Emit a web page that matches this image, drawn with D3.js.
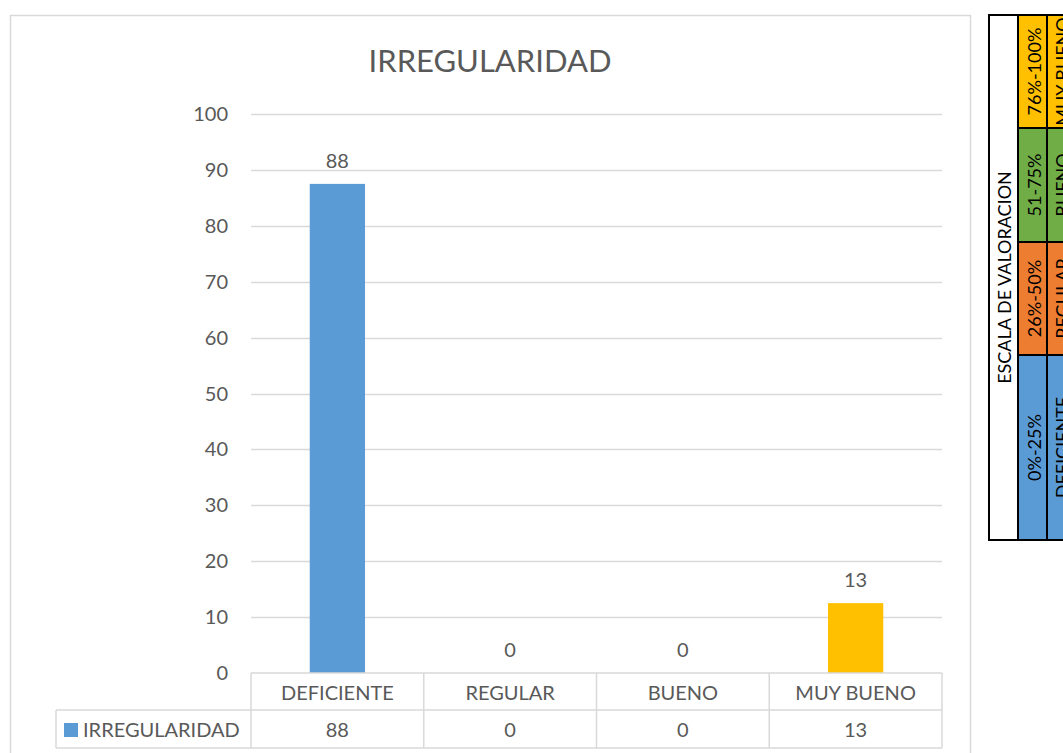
<!DOCTYPE html>
<html>
<head>
<meta charset="utf-8">
<script src="https://cdn.jsdelivr.net/npm/d3@7"></script>
<style>
  body { margin: 0; background: #fff; }
  svg { display: block; font-family: Lato, "Open Sans", sans-serif; }
</style>
</head>
<body>
<script>
// chart data
var categories = ["DEFICIENTE", "REGULAR", "BUENO", "MUY BUENO"];
var values = [87.5, 0, 0, 12.5];
var barColors = ["#5b9bd5", "#5b9bd5", "#5b9bd5", "#ffc000"];
var seriesName = "IRREGULARIDAD";
var yTicks = [0, 10, 20, 30, 40, 50, 60, 70, 80, 90, 100];

// rating scale table
var scaleTitle = "ESCALA DE VALORACION";
var scaleRanges = ["0%-25%", "26%-50%", "51-75%", "76%-100%"];
var scaleNames = ["DEFICIENTE", "REGULAR", "BUENO", "MUY BUENO"];
var scaleColors = ["#5b9bd5", "#ed7d31", "#70ad47", "#ffc000"];

var W = 1063, H = 753;
var textColor = "#595959";
var gridColor = "#d9d9d9";

var svg = d3.select("body")
            .append("svg")
            .attr("width", W)
            .attr("height", H);

// chart frame
svg.append("rect")
   .attr("x", 10.5)
   .attr("y", 15.5)
   .attr("width", 960)
   .attr("height", 780)
   .attr("fill", "#fff")
   .attr("stroke", gridColor)
   .attr("stroke-width", 1.5);

var left = 251, right = 942;
var y = d3.scaleLinear().domain([0, 100]).range([673, 114]);
var x = d3.scaleBand().domain(categories).range([left, right]);
var fmt = d3.format(".0f");

// title
svg.append("text")
   .attr("x", 490)
   .attr("y", 72)
   .attr("text-anchor", "middle")
   .attr("font-size", 31)
   .attr("fill", textColor)
   .text(seriesName);

// gridlines
svg.selectAll("line.grid")
   .data(yTicks.filter(function(d) { return d > 0; }))
   .enter()
   .append("line")
   .attr("class", "grid")
   .attr("x1", left)
   .attr("x2", right)
   .attr("y1", function(d) { return Math.round(y(d)) + 0.5; })
   .attr("y2", function(d) { return Math.round(y(d)) + 0.5; })
   .attr("stroke", gridColor)
   .attr("stroke-width", 1.5);

// y axis labels
svg.selectAll("text.ytick")
   .data(yTicks)
   .enter()
   .append("text")
   .attr("class", "ytick")
   .attr("x", 228)
   .attr("y", function(d) { return y(d) + 7; })
   .attr("text-anchor", "end")
   .attr("font-size", 20)
   .attr("fill", textColor)
   .text(function(d) { return d; });

// bars
var barW = x.bandwidth() * 0.32;
svg.selectAll("rect.bar")
   .data(values)
   .enter()
   .append("rect")
   .attr("class", "bar")
   .attr("x", function(d, i) { return x(categories[i]) + (x.bandwidth() - barW) / 2; })
   .attr("y", function(d) { return y(d); })
   .attr("width", barW)
   .attr("height", function(d) { return y(0) - y(d); })
   .attr("fill", function(d, i) { return barColors[i]; });

// data labels
svg.selectAll("text.dlabel")
   .data(values)
   .enter()
   .append("text")
   .attr("class", "dlabel")
   .attr("x", function(d, i) { return x(categories[i]) + x.bandwidth() / 2; })
   .attr("y", function(d) { return y(d) - 16; })
   .attr("text-anchor", "middle")
   .attr("font-size", 20)
   .attr("fill", textColor)
   .text(function(d) { return fmt(d); });

// data table under the plot
var row1 = 673, row2 = 710, row3 = 748, tableLeft = 56;
var tbl = svg.append("g")
             .attr("stroke", gridColor)
             .attr("stroke-width", 1.5);

tbl.append("line").attr("x1", left).attr("x2", right).attr("y1", row1).attr("y2", row1);
tbl.append("line").attr("x1", tableLeft).attr("x2", right).attr("y1", row2).attr("y2", row2);
tbl.append("line").attr("x1", tableLeft).attr("x2", right).attr("y1", row3).attr("y2", row3);
tbl.append("line").attr("x1", tableLeft).attr("x2", tableLeft).attr("y1", row2).attr("y2", row3);

var edges = categories.map(function(c) { return x(c); }).concat([right]);
tbl.selectAll("line.vcell")
   .data(edges)
   .enter()
   .append("line")
   .attr("class", "vcell")
   .attr("x1", function(d) { return d; })
   .attr("x2", function(d) { return d; })
   .attr("y1", row1)
   .attr("y2", row3);

svg.selectAll("text.cat")
   .data(categories)
   .enter()
   .append("text")
   .attr("class", "cat")
   .attr("x", function(d) { return x(d) + x.bandwidth() / 2; })
   .attr("y", 700)
   .attr("text-anchor", "middle")
   .attr("font-size", 20)
   .attr("fill", textColor)
   .text(function(d) { return d; });

svg.selectAll("text.val")
   .data(values)
   .enter()
   .append("text")
   .attr("class", "val")
   .attr("x", function(d, i) { return x(categories[i]) + x.bandwidth() / 2; })
   .attr("y", 737)
   .attr("text-anchor", "middle")
   .attr("font-size", 20)
   .attr("fill", textColor)
   .text(function(d) { return fmt(d); });

// legend key in the table
svg.append("rect")
   .attr("x", 64)
   .attr("y", 723)
   .attr("width", 14)
   .attr("height", 14)
   .attr("fill", barColors[0]);

svg.append("text")
   .attr("x", 83)
   .attr("y", 737)
   .attr("font-size", 20)
   .attr("fill", textColor)
   .text(seriesName);

// rating scale table at the right
var colX = [989, 1018, 1047, 1076];
var segEdges = [540, 355, 242, 128, 15];   // bottom to top
var scale = svg.append("g");

scale.append("rect")
     .attr("x", colX[0])
     .attr("y", segEdges[4])
     .attr("width", colX[1] - colX[0])
     .attr("height", segEdges[0] - segEdges[4])
     .attr("fill", "#fff");

scaleColors.forEach(function(c, i) {
  [1, 2].forEach(function(col) {
    scale.append("rect")
         .attr("x", colX[col])
         .attr("y", segEdges[i + 1])
         .attr("width", colX[col + 1] - colX[col])
         .attr("height", segEdges[i] - segEdges[i + 1])
         .attr("fill", c)
         .attr("stroke", "#000")
         .attr("stroke-width", 2);
  });
});

scale.append("rect")
     .attr("x", colX[0])
     .attr("y", segEdges[4])
     .attr("width", colX[3] - colX[0])
     .attr("height", segEdges[0] - segEdges[4])
     .attr("fill", "none")
     .attr("stroke", "#000")
     .attr("stroke-width", 2);

scale.append("text")
     .attr("transform", "translate(1011," + (segEdges[0] + segEdges[4]) / 2 + ") rotate(-90)")
     .attr("text-anchor", "middle")
     .attr("font-size", 18)
     .attr("fill", "#000")
     .text(scaleTitle);

scale.selectAll("text.range")
     .data(scaleRanges)
     .enter()
     .append("text")
     .attr("class", "range")
     .attr("transform", function(d, i) {
       return "translate(1041," + (segEdges[i] + segEdges[i + 1]) / 2 + ") rotate(-90)";
     })
     .attr("text-anchor", "middle")
     .attr("font-size", 18)
     .attr("fill", "#000")
     .text(function(d) { return d; });

scale.selectAll("text.sname")
     .data(scaleNames)
     .enter()
     .append("text")
     .attr("class", "sname")
     .attr("transform", function(d, i) {
       return "translate(1069," + (segEdges[i] + segEdges[i + 1]) / 2 + ") rotate(-90)";
     })
     .attr("text-anchor", "middle")
     .attr("font-size", 18)
     .attr("fill", "#000")
     .text(function(d) { return d; });
</script>
</body>
</html>
